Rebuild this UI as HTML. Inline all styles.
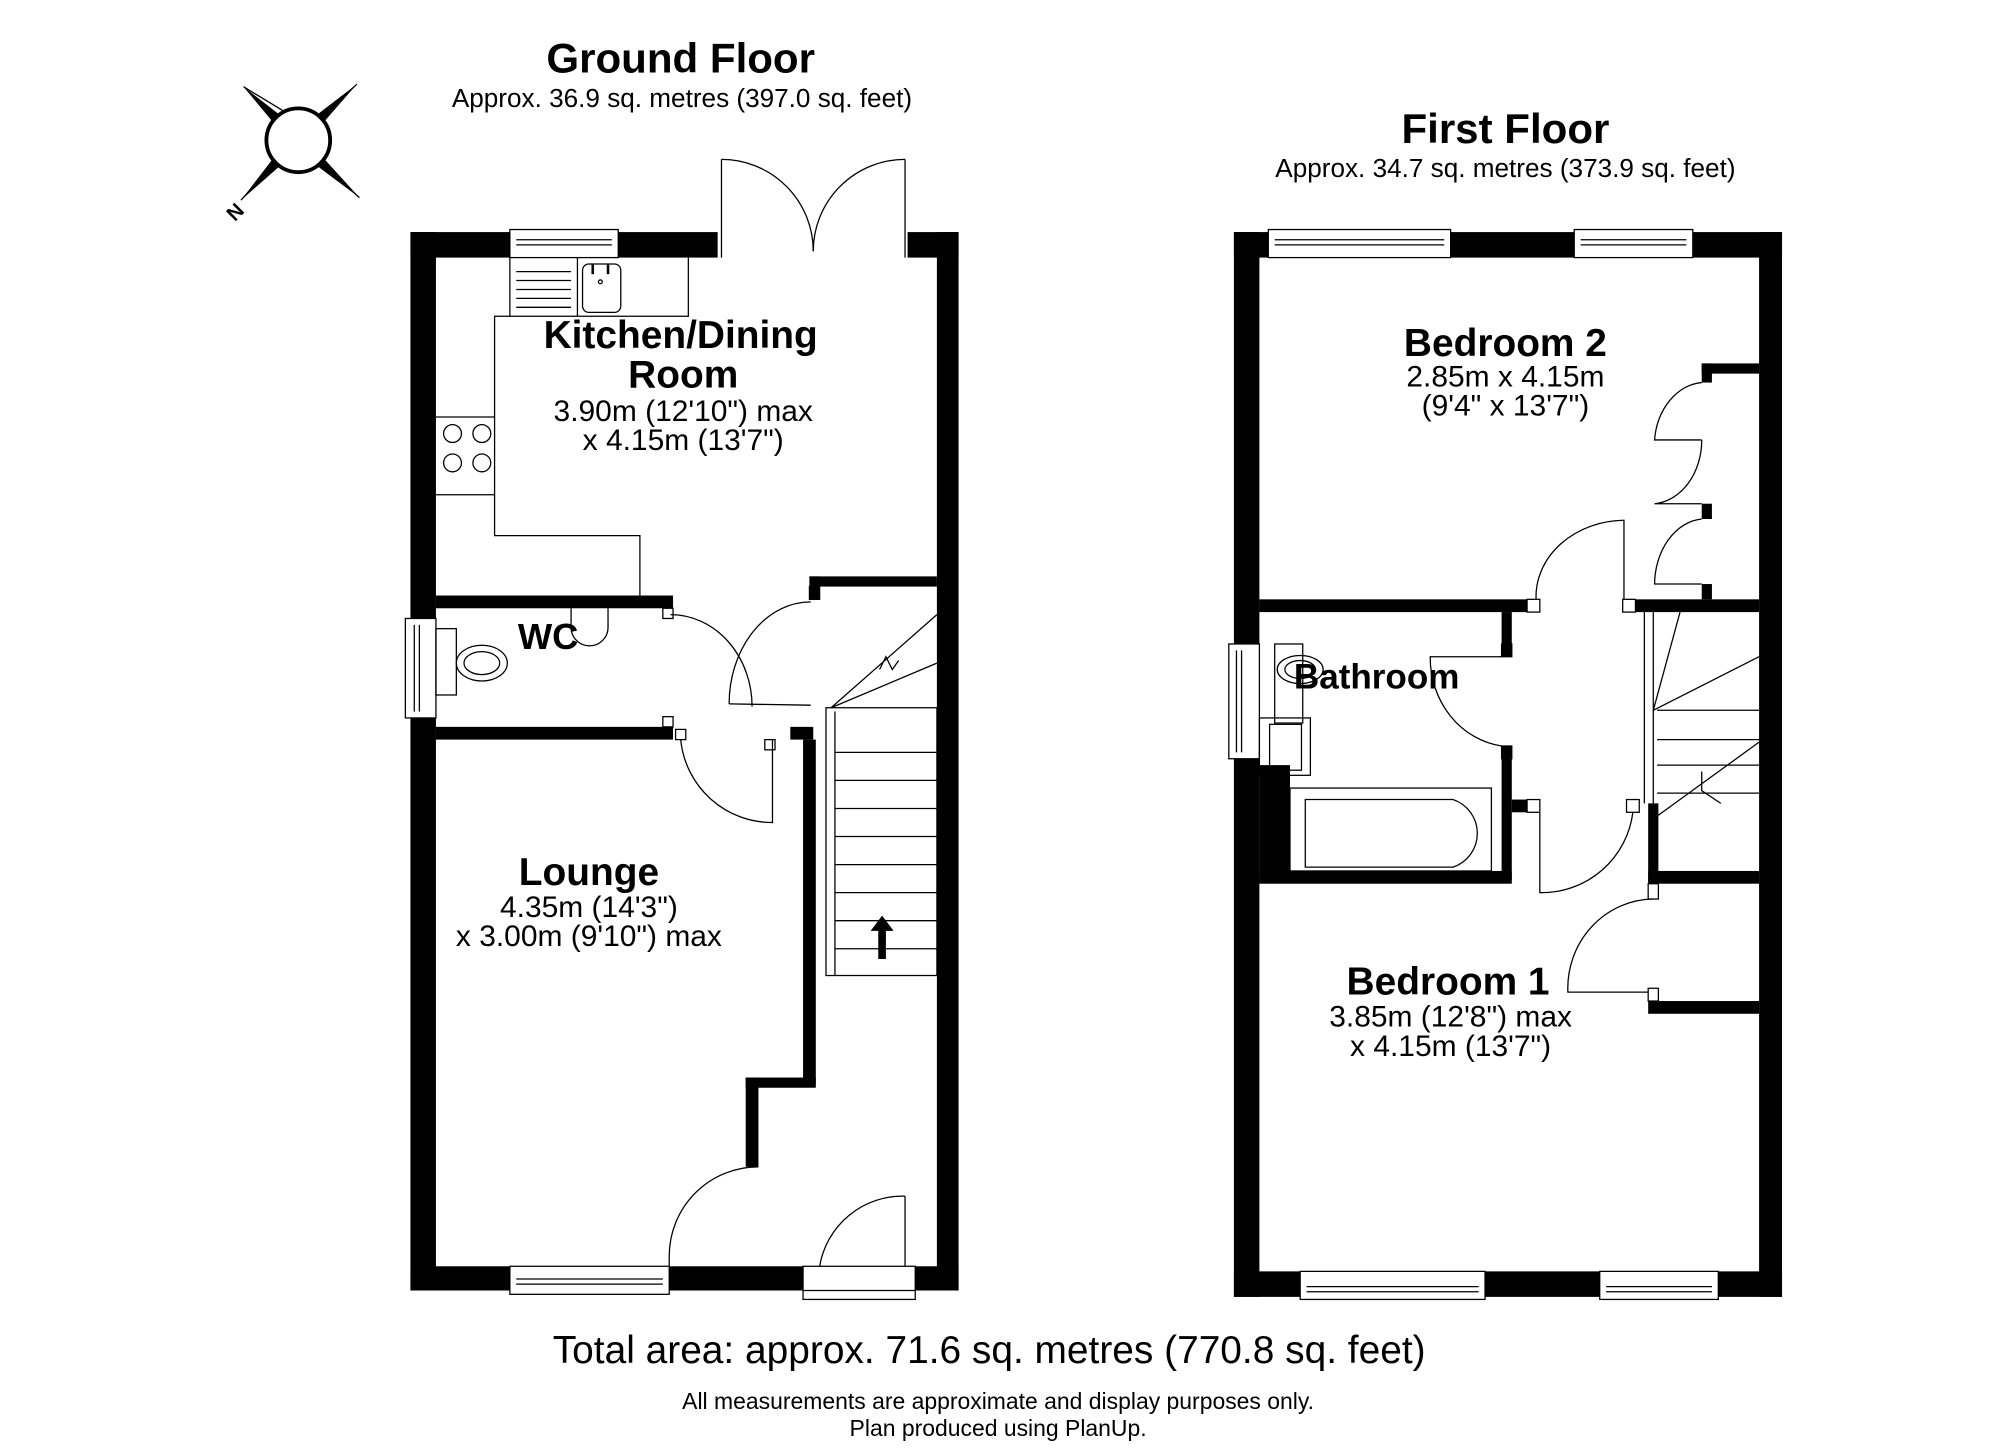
<!DOCTYPE html>
<html><head><meta charset="utf-8"><style>
html,body{margin:0;padding:0;background:#fff;}
svg{display:block}
text{font-family:"Liberation Sans",Arial,sans-serif;fill:#000}
.b{font-weight:bold}
</style></head><body>
<svg width="2000" height="1455" viewBox="0 0 1569 1141" preserveAspectRatio="none" xmlns="http://www.w3.org/2000/svg">
<rect width="1569" height="1141" fill="#fff"/>
<!-- titles -->
<text x="534" y="57" font-size="33" text-anchor="middle" class="b">Ground Floor</text>
<text x="535" y="84" font-size="20.5" text-anchor="middle">Approx. 36.9 sq. metres (397.0 sq. feet)</text>
<text x="1181" y="112" font-size="33" text-anchor="middle" class="b">First Floor</text>
<text x="1181" y="139" font-size="20.5" text-anchor="middle">Approx. 34.7 sq. metres (373.9 sq. feet)</text>
<text x="776" y="1069" font-size="30.5" text-anchor="middle">Total area: approx. 71.6 sq. metres (770.8 sq. feet)</text>
<text x="783" y="1105" font-size="18" text-anchor="middle">All measurements are approximate and display purposes only.</text>
<text x="783" y="1126" font-size="18" text-anchor="middle">Plan produced using PlanUp.</text>

<!-- compass -->
<g transform="translate(234,110)">
<polygon points="-43,-42 -12,-18 -18,-12" fill="#000"/>
<polygon points="46,-44 18,-12 12,-18" fill="#000"/>
<polygon points="-45,47 -18,12 -12,18" fill="#000"/>
<polygon points="48,45 12,18 18,12" fill="#000"/>
<line x1="-43" y1="-42" x2="-10" y2="-22" stroke="#000" stroke-width="1"/>
<line x1="46" y1="-44" x2="20" y2="-20" stroke="#000" stroke-width="1"/>
<line x1="-45" y1="47" x2="-20" y2="20" stroke="#000" stroke-width="1"/>
<line x1="48" y1="45" x2="20" y2="20" stroke="#000" stroke-width="1"/>
<circle r="25" fill="#fff" stroke="#000" stroke-width="3"/>
<text x="-54" y="66" font-size="16" class="b" transform="rotate(-45 -54 60)">N</text>
</g>

<!-- ===== GROUND FLOOR ===== -->
<g fill="#000">
<rect x="322" y="182" width="20" height="830"/>
<rect x="322" y="182" width="78" height="20"/>
<rect x="485" y="182" width="78" height="20"/>
<rect x="712" y="182" width="40" height="20"/>
<rect x="735" y="182" width="17" height="830"/>
<rect x="322" y="993" width="78" height="19"/>
<rect x="525" y="993" width="105" height="19"/>
<rect x="718" y="993" width="34" height="19"/>
<rect x="342" y="467" width="186" height="10"/>
<rect x="342" y="570" width="186" height="10"/>
<rect x="635" y="452" width="100" height="8"/>
<rect x="635" y="452" width="8" height="18"/>
<rect x="630" y="580" width="10" height="270"/>
<rect x="585" y="845" width="55" height="8"/>
<rect x="585" y="845" width="10" height="70"/>
<rect x="620" y="570" width="18" height="10"/>
</g>
<g fill="none" stroke="#000" stroke-width="1">
<!-- windows -->
<rect x="400" y="180" width="85" height="22" fill="#fff"/><line x1="405" y1="188" x2="480" y2="188"/><line x1="405" y1="192" x2="480" y2="192"/>
<rect x="400" y="993" width="125" height="22" fill="#fff"/><line x1="405" y1="1003" x2="520" y2="1003"/><line x1="405" y1="1007" x2="520" y2="1007"/>
<rect x="630" y="993" width="88" height="26" fill="#fff"/><line x1="630" y1="1012" x2="718" y2="1012"/>
<rect x="318" y="485" width="24" height="78" fill="#fff"/><line x1="325" y1="490" x2="325" y2="558"/><line x1="329" y1="490" x2="329" y2="558"/>
<!-- french doors -->
<line x1="566" y1="202" x2="566" y2="125"/><line x1="710" y1="202" x2="710" y2="125"/>
<path d="M566,125 A72,72 0 0 1 638,197"/><path d="M710,125 A72,72 0 0 0 638,197"/>
<!-- kitchen units -->
<polyline points="400,202 400,248 540,248 540,202"/>
<line x1="453" y1="202" x2="453" y2="248"/>
<rect x="457" y="207" width="30" height="38" rx="5"/>
<line x1="465" y1="207" x2="465" y2="215" stroke-width="2"/><line x1="477" y1="207" x2="477" y2="215" stroke-width="2"/>
<circle cx="471" cy="221" r="1.5"/>
<line x1="405" y1="213" x2="448" y2="213"/><line x1="405" y1="220" x2="448" y2="220"/><line x1="405" y1="227" x2="448" y2="227"/><line x1="405" y1="234" x2="448" y2="234"/><line x1="405" y1="241" x2="448" y2="241"/>
<polyline points="400,248 388,248 388,420 502,420 502,467"/>
<polyline points="342,388 388,388"/><polyline points="342,327 388,327"/>
<circle cx="355" cy="340" r="7"/><circle cx="378" cy="340" r="7"/><circle cx="355" cy="363" r="7"/><circle cx="378" cy="363" r="7"/>
<!-- WC fittings -->
<rect x="342" y="493" width="16" height="52"/>
<ellipse cx="378" cy="520" rx="20" ry="14"/><ellipse cx="378" cy="520" rx="14" ry="9"/>
<path d="M448,477 L448,492 A14,14 0 0 0 477,492 L477,477"/>
<!-- doors -->
<rect x="520" y="477" width="8" height="8"/>
<path d="M526,482 A64,72 0 0 1 590,554"/>
<line x1="572" y1="552" x2="636" y2="553"/>
<path d="M636,472 A64,80 0 0 0 572,552"/>
<rect x="635" y="460" width="8" height="10"/><rect x="520" y="562" width="8" height="8"/><rect x="530" y="572" width="8" height="8"/>
<path d="M534,580 A72,72 0 0 0 606,645 L606,580"/><rect x="600" y="580" width="8" height="8"/>
<path d="M595,915 A70,70 0 0 0 525,985 L525,993"/>
<path d="M710,938 A66,66 0 0 0 643,993"/><line x1="710" y1="938" x2="710" y2="993"/>
<!-- stairs -->
<rect x="648" y="555" width="87" height="210"/>
<line x1="655" y1="558" x2="655" y2="765"/>
<line x1="655" y1="590" x2="735" y2="590"/><line x1="655" y1="612" x2="735" y2="612"/><line x1="655" y1="634" x2="735" y2="634"/><line x1="655" y1="656" x2="735" y2="656"/><line x1="655" y1="678" x2="735" y2="678"/><line x1="655" y1="700" x2="735" y2="700"/><line x1="655" y1="722" x2="735" y2="722"/><line x1="655" y1="744" x2="735" y2="744"/>
<line x1="652" y1="555" x2="735" y2="482"/><line x1="652" y1="555" x2="735" y2="520"/>
<polyline points="690,525 695,515 700,525 705,518"/>
</g>
<polygon points="692,718 683,730 689,730 689,752 695,752 695,730 701,730" fill="#000"/>

<!-- ground labels -->
<text x="534" y="273" font-size="30.5" text-anchor="middle" class="b">Kitchen/Dining</text>
<text x="536" y="304" font-size="30.5" text-anchor="middle" class="b">Room</text>
<text x="536" y="330" font-size="23.5" text-anchor="middle">3.90m (12'10") max</text>
<text x="536" y="353" font-size="23.5" text-anchor="middle">x 4.15m (13'7")</text>
<text x="430" y="509" font-size="28.5" text-anchor="middle" class="b">WC</text>
<text x="462" y="694" font-size="30.5" text-anchor="middle" class="b">Lounge</text>
<text x="462" y="719" font-size="23.5" text-anchor="middle">4.35m (14'3")</text>
<text x="462" y="742" font-size="23.5" text-anchor="middle">x 3.00m (9'10") max</text>

<!-- ===== FIRST FLOOR ===== -->
<g fill="#000">
<rect x="968" y="182" width="20" height="835"/>
<rect x="1380" y="182" width="18" height="835"/>
<rect x="968" y="182" width="430" height="20"/>
<rect x="968" y="997" width="430" height="20"/>
<rect x="988" y="470" width="210" height="10"/>
<rect x="1283" y="470" width="97" height="10"/>
<rect x="1178" y="480" width="8" height="35"/>
<rect x="1178" y="585" width="8" height="105"/>
<rect x="1186" y="627" width="12" height="10"/>
<rect x="988" y="683" width="198" height="10"/>
<rect x="988" y="600" width="24" height="90"/>
<rect x="1293" y="630" width="8" height="63"/>
<rect x="1293" y="683" width="87" height="10"/>
<rect x="1293" y="785" width="87" height="10"/>
<rect x="1335" y="285" width="45" height="8"/>
<rect x="1335" y="285" width="8" height="15"/>
<rect x="1335" y="395" width="8" height="12"/>
<rect x="1335" y="458" width="8" height="12"/>
</g>
<g fill="none" stroke="#000" stroke-width="1">
<rect x="995" y="180" width="143" height="22" fill="#fff"/><line x1="1000" y1="188" x2="1133" y2="188"/><line x1="1000" y1="192" x2="1133" y2="192"/>
<rect x="1235" y="180" width="93" height="22" fill="#fff"/><line x1="1240" y1="188" x2="1323" y2="188"/><line x1="1240" y1="192" x2="1323" y2="192"/>
<rect x="1020" y="997" width="145" height="22" fill="#fff"/><line x1="1025" y1="1009" x2="1160" y2="1009"/><line x1="1025" y1="1013" x2="1160" y2="1013"/>
<rect x="1255" y="997" width="93" height="22" fill="#fff"/><line x1="1260" y1="1009" x2="1343" y2="1009"/><line x1="1260" y1="1013" x2="1343" y2="1013"/>
<rect x="964" y="505" width="24" height="90" fill="#fff"/><line x1="970" y1="510" x2="970" y2="590"/><line x1="974" y1="510" x2="974" y2="590"/>
<!-- wardrobe doors -->
<path d="M1335,300 A40,50 0 0 0 1298,345 L1335,345"/><path d="M1335,345 A40,50 0 0 1 1298,395 L1335,395"/>
<path d="M1335,407 A40,52 0 0 0 1298,458 L1335,458"/>
<!-- bed2 door -->
<rect x="1198" y="470" width="10" height="10"/><rect x="1273" y="470" width="10" height="10"/>
<path d="M1205,470 A70,60 0 0 1 1274,408 L1274,470"/>
<!-- bathroom door -->
<rect x="1178" y="505" width="8" height="10"/><rect x="1178" y="585" width="8" height="10"/>
<path d="M1178,515 L1122,515 A65,70 0 0 0 1178,585"/>
<!-- bath fittings -->
<rect x="1000" y="505" width="22" height="62"/><ellipse cx="1020" cy="525" rx="18" ry="11"/><ellipse cx="1020" cy="525" rx="12" ry="7"/>
<rect x="988" y="563" width="40" height="45"/><rect x="996" y="568" width="25" height="36"/>
<rect x="1012" y="618" width="158" height="65"/>
<path d="M1024,627 L1140,627 A28,28 0 0 1 1140,680 L1024,680 Z"/>
<!-- bed1/landing door -->
<rect x="1198" y="627" width="10" height="10"/><rect x="1276" y="627" width="10" height="10"/>
<path d="M1208,637 L1208,700 A72,72 0 0 0 1281,637"/>
<rect x="1293" y="693" width="8" height="12"/>
<path d="M1297,705 A68,70 0 0 0 1230,778 L1293,778"/>
<rect x="1293" y="775" width="8" height="10"/>
<!-- stairs first floor -->
<line x1="1290" y1="480" x2="1290" y2="630"/><line x1="1297" y1="480" x2="1297" y2="690"/>
<line x1="1300" y1="557" x2="1380" y2="557"/><line x1="1300" y1="580" x2="1380" y2="580"/><line x1="1300" y1="600" x2="1380" y2="600"/><line x1="1300" y1="622" x2="1380" y2="622"/>
<line x1="1297" y1="557" x2="1318" y2="480"/><line x1="1297" y1="557" x2="1380" y2="515"/>
<line x1="1300" y1="640" x2="1380" y2="582"/>
<polyline points="1335,605 1335,620 1350,630"/>
</g>

<!-- first labels -->
<text x="1181" y="279" font-size="30.5" text-anchor="middle" class="b">Bedroom 2</text>
<text x="1181" y="303" font-size="23.5" text-anchor="middle">2.85m x 4.15m</text>
<text x="1181" y="326" font-size="23.5" text-anchor="middle">(9'4" x 13'7")</text>
<text x="1080" y="540" font-size="27.5" text-anchor="middle" class="b">Bathroom</text>
<text x="1136" y="780" font-size="30.5" text-anchor="middle" class="b">Bedroom 1</text>
<text x="1138" y="805" font-size="23.5" text-anchor="middle">3.85m (12'8") max</text>
<text x="1138" y="828" font-size="23.5" text-anchor="middle">x 4.15m (13'7")</text>
</svg>
</body></html>
